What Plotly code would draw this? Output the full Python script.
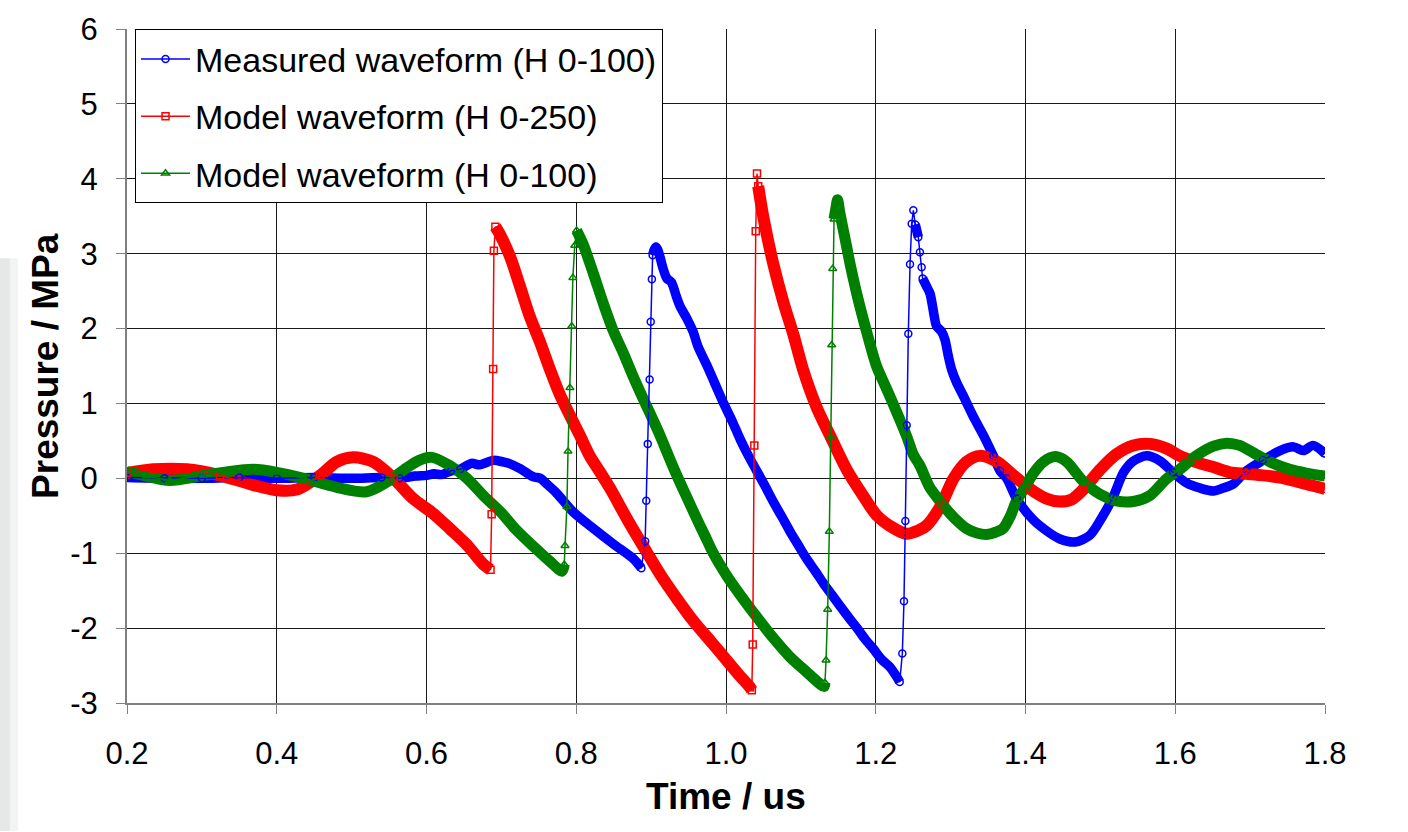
import plotly.graph_objects as go

# ---------------- data ----------------
x_ticks = [0.2, 0.4, 0.6, 0.8, 1.0, 1.2, 1.4, 1.6, 1.8]
x_tick_labels = ["0.2", "0.4", "0.6", "0.8", "1.0", "1.2", "1.4", "1.6", "1.8"]
y_ticks = [-3, -2, -1, 0, 1, 2, 3, 4, 5, 6]
y_tick_labels = ["-3", "-2", "-1", "0", "1", "2", "3", "4", "5", "6"]

measured_h100 = [
    (0.20, 0.01), (0.25, 0.0), (0.30, 0.0), (0.35, 0.01), (0.40, 0.0), (0.45, 0.01),
    (0.50, 0.0), (0.54, 0.01), (0.564, 0.0), (0.585, 0.03), (0.60, 0.04), (0.61, 0.06),
    (0.62, 0.05), (0.633, 0.10), (0.645, 0.12), (0.66, 0.20), (0.671, 0.18), (0.689, 0.24),
    (0.702, 0.22), (0.71, 0.20), (0.725, 0.13), (0.743, 0.02), (0.752, 0.0), (0.761, -0.08),
    (0.774, -0.20), (0.796, -0.45), (0.823, -0.67), (0.85, -0.88), (0.877, -1.08),
    (0.887, -1.20), (0.892, -0.84), (0.8935, -0.30), (0.8955, 0.46), (0.898, 1.32),
    (0.8995, 2.09), (0.901, 2.66), (0.902, 2.98), (0.904, 3.05), (0.9065, 3.09),
    (0.909, 3.05), (0.912, 2.95), (0.916, 2.80), (0.921, 2.67), (0.927, 2.62),
    (0.934, 2.42), (0.939, 2.29), (0.948, 2.13), (0.956, 1.96), (0.963, 1.75),
    (0.974, 1.52), (0.985, 1.27), (0.996, 1.02), (1.008, 0.77), (1.019, 0.52),
    (1.03, 0.30), (1.041, 0.10), (1.052, -0.10), (1.063, -0.31), (1.075, -0.52),
    (1.085, -0.70), (1.097, -0.90), (1.108, -1.08), (1.12, -1.25), (1.13, -1.40),
    (1.141, -1.55), (1.152, -1.70), (1.164, -1.86), (1.175, -2.00), (1.186, -2.15),
    (1.197, -2.28), (1.208, -2.42), (1.219, -2.52), (1.228, -2.65), (1.232, -2.72),
    (1.2355, -2.34), (1.2377, -1.64), (1.2395, -0.57), (1.2413, 0.71), (1.2435, 1.93),
    (1.2458, 2.86), (1.248, 3.40), (1.2502, 3.58), (1.2528, 3.39), (1.2568, 3.22),
    (1.259, 3.02), (1.2613, 2.82), (1.2626, 2.67), (1.268, 2.56), (1.2724, 2.47),
    (1.276, 2.29), (1.2782, 2.16), (1.2813, 2.03), (1.288, 1.96), (1.2925, 1.85),
    (1.297, 1.63), (1.3014, 1.45), (1.308, 1.28), (1.317, 1.10), (1.330, 0.83),
    (1.344, 0.57), (1.357, 0.30), (1.366, 0.10), (1.375, 0.0), (1.388, -0.27),
    (1.41, -0.55), (1.428, -0.70), (1.446, -0.81), (1.466, -0.85), (1.486, -0.76),
    (1.504, -0.49), (1.517, -0.25), (1.531, 0.08), (1.544, 0.23), (1.562, 0.30),
    (1.58, 0.23), (1.597, 0.08), (1.615, -0.06), (1.633, -0.13), (1.651, -0.17),
    (1.664, -0.13), (1.677, -0.08), (1.695, 0.10), (1.717, 0.24), (1.74, 0.37),
    (1.758, 0.42), (1.771, 0.37), (1.784, 0.44), (1.80, 0.33),
]

model_h250 = [
    (0.20, 0.07), (0.235, 0.12), (0.28, 0.12), (0.324, 0.04), (0.369, -0.09), (0.40, -0.16),
    (0.427, -0.15), (0.458, 0.04), (0.48, 0.22), (0.502, 0.28), (0.529, 0.22), (0.556, 0.0),
    (0.582, -0.27), (0.609, -0.47), (0.632, -0.68), (0.654, -0.89), (0.676, -1.15),
    (0.6855, -1.22), (0.687, -0.48), (0.689, 1.46), (0.690, 3.04), (0.692, 3.36),
    (0.698, 3.26), (0.712, 2.95), (0.725, 2.56), (0.738, 2.16), (0.752, 1.81),
    (0.765, 1.45), (0.778, 1.12), (0.792, 0.83), (0.805, 0.57), (0.818, 0.30),
    (0.832, 0.08), (0.845, -0.13), (0.870, -0.58), (0.895, -1.0), (0.912, -1.28),
    (0.934, -1.60), (0.956, -1.90), (0.979, -2.17), (1.001, -2.43), (1.017, -2.62),
    (1.032, -2.79), (1.0345, -2.83), (1.0357, -2.22), (1.0378, 0.44), (1.0397, 3.30),
    (1.0414, 4.07), (1.043, 3.90), (1.050, 3.48), (1.063, 2.87), (1.077, 2.34),
    (1.090, 1.92), (1.103, 1.45), (1.121, 0.95), (1.139, 0.57), (1.161, 0.12),
    (1.183, -0.23), (1.201, -0.49), (1.223, -0.66), (1.241, -0.74), (1.256, -0.70),
    (1.268, -0.63), (1.286, -0.38), (1.304, 0.0), (1.321, 0.22), (1.339, 0.30),
    (1.362, 0.22), (1.384, 0.04), (1.406, -0.14), (1.428, -0.27), (1.446, -0.31),
    (1.462, -0.28), (1.477, -0.15), (1.499, 0.11), (1.521, 0.32), (1.544, 0.44),
    (1.566, 0.46), (1.588, 0.40), (1.606, 0.30), (1.633, 0.20), (1.651, 0.15),
    (1.673, 0.08), (1.695, 0.06), (1.717, 0.04), (1.740, 0.01), (1.762, -0.04),
    (1.784, -0.10), (1.80, -0.14),
]

model_h100 = [
    (0.20, 0.09), (0.226, 0.03), (0.257, -0.03), (0.302, 0.04), (0.335, 0.09), (0.369, 0.12),
    (0.40, 0.08), (0.436, 0.0), (0.48, -0.12), (0.52, -0.18), (0.547, -0.05), (0.5736, 0.14),
    (0.59, 0.24), (0.607, 0.28), (0.631, 0.17), (0.654, 0.0), (0.676, -0.23), (0.699, -0.45),
    (0.72, -0.69), (0.743, -0.91), (0.765, -1.11), (0.781, -1.24), (0.784, -1.15),
    (0.785, -0.90), (0.7875, -0.38), (0.789, 0.36), (0.7915, 1.21), (0.794, 2.03),
    (0.7955, 2.68), (0.798, 3.11), (0.8005, 3.31), (0.809, 3.13), (0.823, 2.73),
    (0.836, 2.34), (0.849, 1.98), (0.863, 1.67), (0.876, 1.36), (0.890, 1.05),
    (0.903, 0.77), (0.912, 0.57), (0.924, 0.28), (0.936, 0.0), (0.948, -0.26),
    (0.960, -0.52), (0.972, -0.77), (0.983, -1.0), (1.001, -1.30), (1.020, -1.57),
    (1.041, -1.85), (1.063, -2.13), (1.085, -2.38), (1.107, -2.58), (1.126, -2.75),
    (1.131, -2.78), (1.1322, -2.73), (1.1336, -2.43), (1.1358, -1.75), (1.138, -0.71),
    (1.1398, 0.55), (1.1411, 1.78), (1.1425, 2.80), (1.1443, 3.46), (1.147, 3.62),
    (1.149, 3.72), (1.152, 3.55), (1.161, 3.10), (1.166, 2.85), (1.175, 2.45),
    (1.188, 1.95), (1.201, 1.50), (1.212, 1.25), (1.223, 1.00), (1.241, 0.57),
    (1.250, 0.32), (1.259, 0.17), (1.272, -0.12), (1.283, -0.27), (1.295, -0.42),
    (1.308, -0.56), (1.321, -0.67), (1.335, -0.73), (1.348, -0.75), (1.360, -0.72),
    (1.370, -0.67), (1.380, -0.50), (1.388, -0.30), (1.399, -0.13), (1.410, 0.06),
    (1.424, 0.22), (1.440, 0.29), (1.455, 0.22), (1.477, -0.04), (1.499, -0.21),
    (1.521, -0.30), (1.544, -0.31), (1.566, -0.23), (1.588, -0.01), (1.606, 0.12),
    (1.628, 0.30), (1.651, 0.43), (1.669, 0.47), (1.686, 0.44), (1.708, 0.32),
    (1.731, 0.20), (1.753, 0.12), (1.775, 0.07), (1.80, 0.03),
]

series = [
    ("Measured waveform (H 0-100)", measured_h100, "#0000FF", "circle-open", 9.5),
    ("Model waveform (H 0-250)", model_h250, "#FF0000", "square-open", 12),
    ("Model waveform (H 0-100)", model_h100, "#008000", "triangle-up-open", 11),
]


def band_segments(pts, thr=65.0):
    """Break the dense (thick) band wherever the waveform jumps steeply."""
    xs, ys = [], []
    for i, (t, p) in enumerate(pts):
        if i > 0:
            t0, p0 = pts[i - 1]
            if abs((p - p0) / (t - t0)) > thr:
                xs.append(None)
                ys.append(None)
        xs.append(t)
        ys.append(p)
    return xs, ys


fig = go.Figure()

# dense marker bands (drawn first)
for name, pts, color, sym, w in series:
    bx, by = band_segments(pts)
    fig.add_trace(go.Scatter(
        x=bx, y=by, mode="lines", showlegend=False, hoverinfo="skip",
        line=dict(color=color, width=w, shape="spline", smoothing=0.8),
    ))

# thin lines with hollow markers (legend entries)
for name, pts, color, sym, w in series:
    t = [a for a, b in pts]
    p = [b for a, b in pts]
    fig.add_trace(go.Scatter(
        x=t, y=p, mode="lines+markers", name=name, legendgroup=name,
        line=dict(color=color, width=1.5),
        marker=dict(symbol=sym, size=7, color=color, line=dict(color=color, width=1.5)),
    ))

base_font = "Liberation Sans, Arial, sans-serif"

fig.update_layout(
    width=1408, height=832,
    margin=dict(l=127, r=83, t=22, b=129),
    paper_bgcolor="white", plot_bgcolor="white",
    font=dict(family=base_font, color="black"),
    xaxis=dict(
        range=[0.2, 1.8], tickvals=x_ticks, ticktext=x_tick_labels,
        showgrid=True, gridcolor="#1a1a1a", gridwidth=1, zeroline=False,
        showline=True, linecolor="#808080", linewidth=2,
        ticks="outside", ticklen=9, tickcolor="#808080", tickwidth=1,
        tickfont=dict(size=31, family=base_font, color="black"),
        ticklabelstandoff=13,
    ),
    yaxis=dict(
        range=[-3, 6], tickvals=y_ticks, ticktext=y_tick_labels,
        showgrid=True, gridcolor="#1a1a1a", gridwidth=1, zeroline=False,
        showline=True, linecolor="#808080", linewidth=2,
        ticks="outside", ticklen=9, tickcolor="#808080", tickwidth=1,
        tickfont=dict(size=31, family=base_font, color="black"),
        ticklabelstandoff=12,
    ),
    legend=dict(
        x=0.0067, y=0.9995, xanchor="left", yanchor="top",
        bgcolor="white", bordercolor="black", borderwidth=1,
        font=dict(size=34, family=base_font, color="black"),
        tracegroupgap=10, traceorder="grouped", itemwidth=49,
    ),
    annotations=[
        dict(text="<b>Pressure / MPa</b>", textangle=-90, xref="paper", yref="paper",
             x=-0.0685, y=0.5, xanchor="center", yanchor="middle", showarrow=False,
             font=dict(size=37, family=base_font, color="black")),
        dict(text="<b>Time / us</b>", xref="paper", yref="paper",
             x=0.5, y=-0.1385, xanchor="center", yanchor="middle", showarrow=False,
             font=dict(size=37, family=base_font, color="black")),
    ],
    shapes=[
        dict(type="rect", xref="paper", yref="paper", x0=-0.106, x1=-0.0977,
             y0=-0.19, y1=0.66, fillcolor="#e6e8e8", line=dict(width=0), layer="below"),
        dict(type="rect", xref="paper", yref="paper", x0=-0.0977, x1=-0.0910,
             y0=-0.19, y1=0.66, fillcolor="#f2f3f3", line=dict(width=0), layer="below"),
    ],
)

fig.write_html("out.html")
